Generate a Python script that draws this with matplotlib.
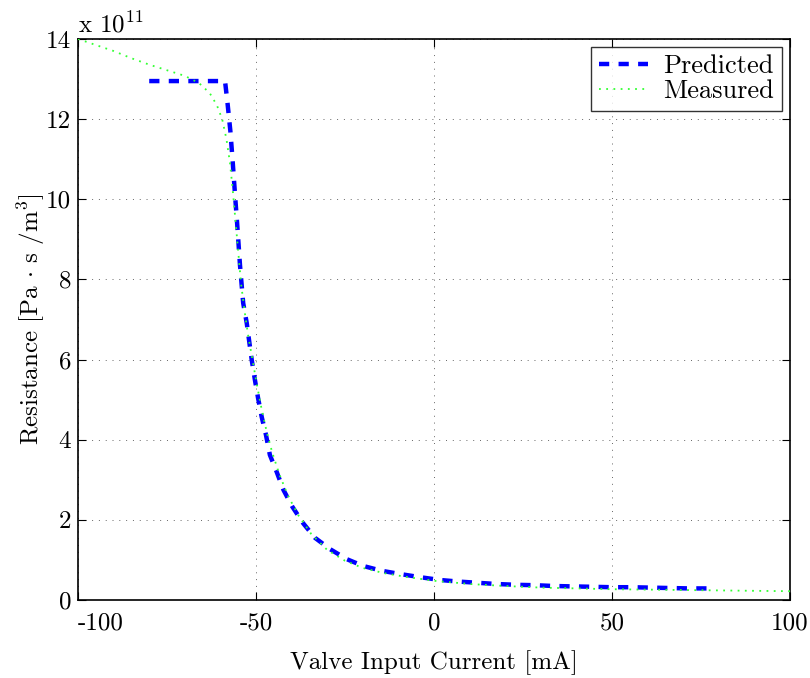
import matplotlib
matplotlib.use("Agg")
import matplotlib.pyplot as plt

plt.rcParams['font.family'] = ['cmr10']
plt.rcParams['mathtext.fontset'] = 'cm'
plt.rcParams['axes.unicode_minus'] = False
plt.rcParams['axes.formatter.use_mathtext'] = True

# Predicted resistance (x 1e11 Pa s / m^3) vs valve input current (mA)
pred_x = [-80, -58.7, -58.0, -57.2, -56.6, -56.2, -55.8, -55.3, -54.5, -53.6, -52.6,
          -51.9, -51.2, -50.3, -49.4, -48.4, -47.2, -46.1, -44.2, -42.3, -39.8,
          -36.7, -33.4, -29.2, -24.5, -19.9, -14.7, -9.6, -3.9, 1.7, 7.0, 12.3,
          17.6, 23.0, 28.4, 33.7, 39.1, 44.6, 49.9, 55.2, 60.7, 66.0, 71.5, 78]
pred_y = [12.95, 12.95, 12.4, 11.7, 11.0, 10.5, 10.0, 9.4, 8.36, 7.41, 6.91,
          6.45, 5.99, 5.49, 5.03, 4.57, 4.12, 3.62, 3.20, 2.75, 2.33,
          1.91, 1.55, 1.27, 1.02, 0.85, 0.73, 0.65, 0.57, 0.50, 0.46, 0.43,
          0.40, 0.38, 0.37, 0.35, 0.34, 0.33, 0.32, 0.32, 0.31, 0.30, 0.29, 0.29]

# Measured
meas_x = [-100, -95, -90, -85, -80, -75, -70, -66, -63, -61, -59.5, -58.3, -57.3,
          -56.5, -55.8, -55.0, -54.2, -53.2, -52.2, -51.0, -49.8, -48.5, -47.0,
          -45.5, -43.5, -41.0, -38.0, -34.5, -30.0, -25.0, -20.0, -14.0, -8.0,
          0.0, 10.0, 20.0, 30.0, 40.0, 50.0, 60.0, 70.0, 80.0, 90.0, 100.0]
meas_y = [14.0, 13.85, 13.7, 13.52, 13.36, 13.22, 13.08, 12.9, 12.65, 12.35, 12.0, 11.5, 10.9,
          10.2, 9.5, 8.7, 7.9, 7.2, 6.6, 6.0, 5.4, 4.8, 4.2,
          3.7, 3.15, 2.6, 2.1, 1.65, 1.25, 0.98, 0.8, 0.67, 0.58,
          0.48, 0.40, 0.35, 0.31, 0.29, 0.27, 0.26, 0.25, 0.24, 0.23, 0.22]

x_ticks = [-100, -50, 0, 50, 100]
y_ticks = [0, 2, 4, 6, 8, 10, 12, 14]

FS = 18

fig = plt.figure(figsize=(8.1, 6.78), dpi=100)
ax = fig.add_axes([0.0963, 0.115, 0.879, 0.8275])

ax.plot(pred_x, pred_y, color='#0000ff', linestyle=(0, (2.3, 2.1)), linewidth=3.2,
        label='Predicted', zorder=3)
ax.plot(meas_x, meas_y, color='#33ff33', linestyle=(0, (1, 3)), linewidth=1.3,
        label='Measured', zorder=4)

ax.set_xlim(-100, 100)
ax.set_ylim(0, 14)
ax.set_xticks(x_ticks)
ax.set_yticks(y_ticks)
ax.set_xticklabels([str(v) for v in x_ticks])
ax.set_yticklabels([str(v) for v in y_ticks])
ax.tick_params(direction='in', top=True, right=True, labelsize=FS, length=6, width=0.8)
ax.tick_params(axis='x', pad=9)
ax.tick_params(axis='y', pad=5)
ax.get_xticklabels()[0].set_horizontalalignment('left')
ax.grid(True, color='black', linestyle=(0, (1, 6)), linewidth=0.7, alpha=0.6)
for s in ax.spines.values():
    s.set_linewidth(1.2)

ax.set_xlabel('Valve Input Current [mA]', fontsize=FS, labelpad=11)
ax.set_ylabel(r'Resistance [Pa $\cdot$ s /m$^3$]', fontsize=FS, labelpad=-1)
ax.text(0.0, 1.003, r'x 10$^{11}$', transform=ax.transAxes, fontsize=FS,
        ha='left', va='bottom')

leg = ax.legend(loc='upper right', fontsize=19, frameon=True, fancybox=False,
                edgecolor='black', handlelength=1.85, borderpad=0.3,
                labelspacing=0.02, handletextpad=0.6, borderaxespad=0,
                bbox_to_anchor=(0.989, 0.986))
leg.get_frame().set_linewidth(1.0)

fig.savefig('out.png', dpi=100)
